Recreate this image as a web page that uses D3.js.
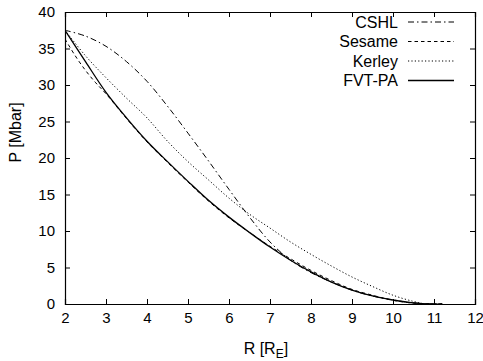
<!DOCTYPE html>
<html>
<head>
<meta charset="utf-8">
<script src="https://cdn.jsdelivr.net/npm/d3@7"></script>
<style>
  body { margin: 0; background: #fff; }
  svg { display: block; font-family: "Liberation Sans", Arial, sans-serif; }
  .axis path, .axis line { stroke: #000; }
  .axis text { font-size: 15px; fill: #000; }
</style>
</head>
<body>
<div class="chart-container"></div>
<script>
// Data: pressure P [Mbar] against radius R [R_E]
var seriesNames = ["CSHL", "Sesame", "Kerley", "FVT-PA"];

var cshlR = [2, 2.5, 3, 3.5, 4, 4.5, 5, 5.5, 6, 6.5, 7, 7.5, 8, 8.5, 9, 9.5, 10, 10.5, 11, 11.2];
var cshlP = [37.5, 36.7, 35.3, 33.2, 30.5, 27.1, 23.4, 19.6, 15.7, 11.9, 8.5, 6.0, 4.3, 3.0, 1.9, 1.1, 0.55, 0.15, 0, 0];

var sesameR = [2, 2.25, 2.5, 2.75, 3, 3.5, 4, 4.5, 5, 5.5, 6, 6.5, 7, 7.5, 8, 8.5, 9, 9.5, 10, 10.5, 11, 11.2];
var sesameP = [36.3, 34.0, 32.0, 30.3, 28.8, 25.4, 22.2, 19.4, 16.7, 14.1, 11.8, 9.8, 7.9, 6.2, 4.6, 3.2, 2.0, 1.2, 0.5, 0.12, 0, 0];

var kerleyR = [2, 2.5, 3, 3.5, 4, 4.5, 5, 5.5, 6, 6.5, 7, 7.5, 8, 8.5, 9, 9.5, 10, 10.5, 10.8, 11.2];
var kerleyP = [37.5, 34.0, 31.0, 28.2, 25.5, 22.3, 19.5, 17.0, 14.5, 12.3, 10.4, 8.5, 6.8, 5.2, 3.7, 2.4, 1.2, 0.35, 0, 0];

var fvtR = [2, 2.5, 3, 3.5, 4, 4.5, 5, 5.5, 6, 6.5, 7, 7.5, 8, 8.5, 9, 9.5, 10, 10.5, 11, 11.2];
var fvtP = [37.5, 33.2, 29.0, 25.5, 22.3, 19.5, 16.8, 14.2, 11.9, 9.8, 7.8, 6.0, 4.4, 3.0, 1.9, 1.1, 0.55, 0.15, 0, 0];

var xTicks = [2, 3, 4, 5, 6, 7, 8, 9, 10, 11, 12];
var yTicks = [0, 5, 10, 15, 20, 25, 30, 35, 40];

// Set Margin
var margin = { top: 12, right: 8, bottom: 57, left: 65 },
    width = 483 - margin.left - margin.right,
    height = 361 - margin.top - margin.bottom;

// Set Range
var x = d3.scaleLinear().domain([2, 12]).range([0, width]);
var y = d3.scaleLinear().domain([0, 40]).range([height, 0]);

var svg = d3.select('.chart-container').append("svg")
    .attr("width", 483)
    .attr("height", 361)
    .append("g")
    .attr("transform", "translate(" + margin.left + "," + margin.top + ")");

svg.append("clipPath").attr("id", "clip")
    .append("rect").attr("width", width).attr("height", height);

// Axes, gnuplot style: ticks inward on all four sides
svg.append("g").attr("class", "axis")
    .attr("transform", "translate(0," + height + ")")
    .call(d3.axisBottom(x).tickValues(xTicks).tickSize(-5).tickPadding(8).tickFormat(d3.format("d")));
svg.append("g").attr("class", "axis")
    .call(d3.axisTop(x).tickValues(xTicks).tickSize(-5).tickFormat(""));
svg.append("g").attr("class", "axis")
    .call(d3.axisLeft(y).tickValues(yTicks).tickSize(-5).tickPadding(10).tickFormat(d3.format("d")));
svg.append("g").attr("class", "axis")
    .attr("transform", "translate(" + width + ",0)")
    .call(d3.axisRight(y).tickValues(yTicks).tickSize(-5).tickFormat(""));

svg.selectAll(".axis .domain").attr("stroke-width", 1.2);

// Axis titles
var xt = svg.append("text")
    .attr("x", x(6.9))
    .attr("y", height + 50)
    .attr("text-anchor", "middle")
    .style("font-size", "16px");
xt.append("tspan").text("R [R");
xt.append("tspan").attr("dy", 4).style("font-size", "12px").text("E");
xt.append("tspan").attr("dy", -4).text("]");

svg.append("text")
    .attr("transform", "translate(" + (-44) + "," + (y(23.5)) + ") rotate(-90)")
    .attr("text-anchor", "middle")
    .style("font-size", "16px")
    .text("P [Mbar]");

// Curves
var series = [
  { name: seriesNames[0], r: cshlR, p: cshlP, dash: "6,3,1.5,3", w: 1 },
  { name: seriesNames[1], r: sesameR, p: sesameP, dash: "3.5,3", w: 1 },
  { name: seriesNames[2], r: kerleyR, p: kerleyP, dash: "1.2,2.2", w: 1 },
  { name: seriesNames[3], r: fvtR, p: fvtP, dash: null, w: 1.3 }
];

var line = d3.line()
    .x(function(d) { return x(d[0]); })
    .y(function(d) { return y(d[1]); })
    .curve(d3.curveCatmullRom.alpha(0.5));

svg.append("g").attr("clip-path", "url(#clip)")
    .selectAll(".curve")
    .data(series)
    .enter().append("path")
    .attr("class", "curve")
    .attr("fill", "none")
    .attr("stroke", "#000")
    .attr("stroke-width", function(d) { return d.w; })
    .attr("stroke-dasharray", function(d) { return d.dash; })
    .attr("d", function(d) {
        return line(d.r.map(function(r, i) { return [r, d.p[i]]; }));
    });

// Legend
var legend = svg.selectAll(".legend")
    .data(series)
    .enter().append("g")
    .attr("class", "legend")
    .attr("transform", function(d, i) { return "translate(0," + (10 + i * 19.5) + ")"; });

legend.append("text")
    .attr("x", 333)
    .attr("y", 5.5)
    .attr("text-anchor", "end")
    .style("font-size", "16px")
    .text(function(d) { return d.name; });

legend.append("line")
    .attr("x1", 343).attr("x2", 389)
    .attr("y1", 0).attr("y2", 0)
    .attr("stroke", "#000")
    .attr("stroke-width", function(d) { return d.w; })
    .attr("stroke-dasharray", function(d) { return d.dash; });
</script>
</body>
</html>
